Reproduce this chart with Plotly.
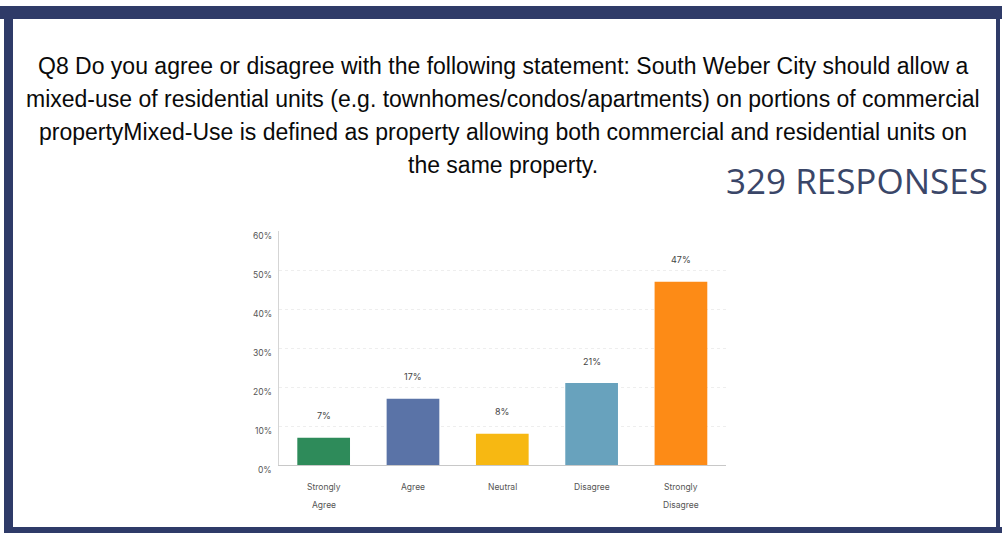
import plotly.graph_objects as go

categories = ["Strongly\nAgree", "Agree", "Neutral", "Disagree", "Strongly\nDisagree"]
values = [7, 17, 8, 21, 47]
value_labels = ["7%", "17%", "8%", "21%", "47%"]
bar_colors = ["#2e8b5a", "#5a73a7", "#f7b812", "#68a2bd", "#fd8b16"]
y_ticks = [0, 10, 20, 30, 40, 50, 60]
y_tick_labels = ["0%", "10%", "20%", "30%", "40%", "50%", "60%"]
title_lines = [
    "Q8 Do you agree or disagree with the following statement: South Weber City should allow a",
    "mixed-use of residential units (e.g. townhomes/condos/apartments) on portions of commercial",
    "propertyMixed-Use is defined as property allowing both commercial and residential units on",
    "the same property.",
]
responses_text = "329 RESPONSES"

W, H = 1002, 533
def px_x(x):
    return x / W
def px_y(y):
    return 1 - y / H

x_ids = list(range(len(categories)))

fig = go.Figure()
fig.add_trace(go.Bar(
    x=x_ids, y=values, marker=dict(color=bar_colors, line=dict(width=0)),
    hoverinfo="skip", showlegend=False,
))

small_font = "Inter, Lato, 'DejaVu Sans', sans-serif"

annotations = []
# value labels above bars
for xi, v, lab in zip(x_ids, values, value_labels):
    annotations.append(dict(x=xi, y=v, xref="x", yref="y", text=lab, showarrow=False,
                            yshift=22, font=dict(family=small_font, size=9, color="#444444")))
# y tick labels
for t, lab in zip(y_ticks, y_tick_labels):
    annotations.append(dict(x=px_x(274), y=t, xref="paper", yref="y", text=lab, showarrow=False,
                            xanchor="right", yshift=-5, font=dict(family=small_font, size=8.5, color="#555555")))
# x category labels (each line separately)
for xi, cat in zip(x_ids, categories):
    for li, line in enumerate(cat.split("\n")):
        annotations.append(dict(x=xi, y=px_y(487 + 18 * li), xref="x", yref="paper", text=line,
                                showarrow=False, yanchor="middle",
                                font=dict(family=small_font, size=8.5, color="#555555")))
# title lines
for li, line in enumerate(title_lines):
    annotations.append(dict(x=px_x(503), y=px_y(66 + 33 * li), xref="paper", yref="paper", text=line,
                            showarrow=False, xanchor="center", yanchor="middle",
                            font=dict(family="'Liberation Sans', Arial, sans-serif",
                                      size=23, color="#0a0a0a")))
annotations.append(dict(x=px_x(990), y=px_y(180), xref="paper", yref="paper", text=responses_text,
                        showarrow=False, xanchor="right", yanchor="middle",
                        font=dict(family="'Open Sans', Lato, sans-serif", size=35, color="#3a4668")))

shapes = [
    dict(type="rect", xref="paper", yref="paper", x0=0, x1=1, y0=px_y(19), y1=px_y(6),
         fillcolor="#2f3b68", line=dict(width=0), layer="above"),
    dict(type="rect", xref="paper", yref="paper", x0=px_x(4), x1=px_x(13), y0=px_y(533), y1=px_y(6),
         fillcolor="#2f3b68", line=dict(width=0), layer="above"),
    dict(type="rect", xref="paper", yref="paper", x0=px_x(996), x1=px_x(1000), y0=px_y(533), y1=px_y(6),
         fillcolor="#2f3b68", line=dict(width=0), layer="above"),
    dict(type="rect", xref="paper", yref="paper", x0=px_x(4), x1=1, y0=0, y1=px_y(527),
         fillcolor="#2f3b68", line=dict(width=0), layer="above"),
]

fig.update_layout(
    width=W, height=H, autosize=False,
    margin=dict(l=0, r=0, t=0, b=0),
    paper_bgcolor="white", plot_bgcolor="white",
    bargap=0.41,
    annotations=annotations, shapes=shapes,
    xaxis=dict(domain=[px_x(279), px_x(725.6)], range=[-0.5, 4.5], showticklabels=False,
               showgrid=False, zeroline=False, showline=True, linecolor="#c8c8c8", linewidth=1,
               ticks="", fixedrange=True),
    yaxis=dict(domain=[px_y(465), px_y(231)], range=[0, 60], tickvals=y_ticks, showticklabels=False,
               showgrid=True, gridcolor="#eeeeee", griddash="dot", gridwidth=1,
               zeroline=False, showline=True, linecolor="#d5d5d5", linewidth=1, ticks="",
               fixedrange=True),
)

fig.write_html("out.html")
